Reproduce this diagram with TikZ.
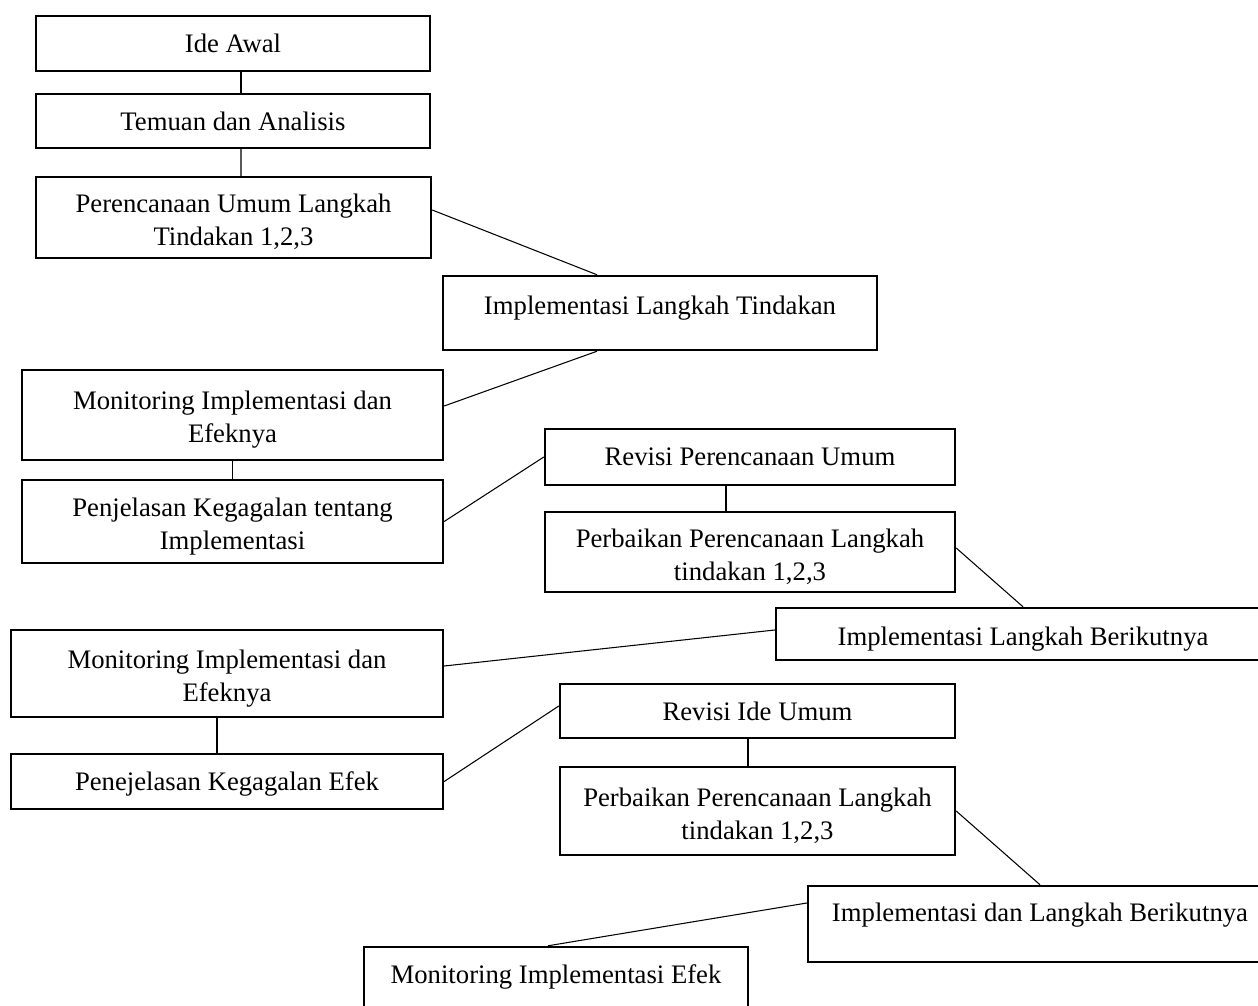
\documentclass[tikz,border=0pt]{standalone}
\usepackage{fontspec}
\setmainfont{Liberation Serif}
\newcommand\topstrut{\rule{0pt}{0.56cm}}

\begin{document}
\begin{tikzpicture}[x=0.02cm, y=-0.02cm, font=\fontsize{15.2}{18.8}\selectfont,
  box/.style={draw, line width=1.4pt, align=center, inner sep=2pt},
  link/.style={line width=0.6pt}]
  \useasboundingbox (0,0) rectangle (1258,1006);
  \clip (0,0) rectangle (1258,1006);

  \node[box, minimum width=7.88cm, minimum height=1.10cm] (ide) at (233,43.5) {Ide Awal};
  \node[box, minimum width=7.88cm, minimum height=1.08cm] (temuan) at (233,121) {Temuan dan Analisis};
  \node[box, minimum width=7.90cm, minimum height=1.62cm] (rencana) at (233.5,217.5) {\topstrut Perencanaan Umum Langkah\\Tindakan 1,2,3};
  \node[box, minimum width=8.68cm, minimum height=1.48cm, text depth=0.31cm] (impl) at (660,313) {Implementasi Langkah Tindakan};
  \node[box, minimum width=8.42cm, minimum height=1.80cm] (monA) at (232.5,415) {\topstrut Monitoring Implementasi dan\\Efeknya};
  \node[box, minimum width=8.42cm, minimum height=1.66cm] (gagalA) at (232.5,521.5) {\topstrut Penjelasan Kegagalan tentang\\Implementasi};
  \node[box, minimum width=8.20cm, minimum height=1.12cm] (revA) at (750,457) {Revisi Perencanaan Umum};
  \node[box, minimum width=8.20cm, minimum height=1.60cm] (perbA) at (750,552) {\topstrut Perbaikan Perencanaan Langkah\\tindakan 1,2,3};
  \node[box, minimum width=9.88cm, minimum height=1.04cm, text height=0.56cm] (implB) at (1023,634) {Implementasi Langkah Berikutnya};
  \node[box, minimum width=8.64cm, minimum height=1.74cm] (monB) at (227,673.5) {\topstrut Monitoring Implementasi dan\\Efeknya};
  \node[box, minimum width=8.64cm, minimum height=1.10cm, text height=0.48cm] (gagalB) at (227,781.5) {Penejelasan Kegagalan Efek};
  \node[box, minimum width=7.90cm, minimum height=1.08cm] (revB) at (757.5,711) {Revisi Ide Umum};
  \node[box, minimum width=7.90cm, minimum height=1.76cm] (perbB) at (757.5,811) {\topstrut Perbaikan Perencanaan Langkah\\tindakan 1,2,3};
  \node[box, minimum width=9.28cm, minimum height=1.52cm, text depth=0.49cm] (implC) at (1040,924) {Implementasi dan Langkah Berikutnya};
  \node[box, minimum width=7.68cm, minimum height=1.46cm, text depth=0.37cm] (monC) at (556,983.5) {Monitoring Implementasi Efek};

  \draw[link] ([xshift=0.16cm]ide.south) -- ([xshift=0.16cm]temuan.north);
  \draw[link] ([xshift=0.16cm]temuan.south) -- ([xshift=0.15cm]rencana.north);
  \draw[link] ([yshift=0.15cm]rencana.east) -- ([xshift=-1.26cm]impl.north);
  \draw[link] ([xshift=-1.26cm]impl.south) -- ([yshift=0.18cm]monA.east);
  \draw[link] (monA.south) -- (gagalA.north);
  \draw[link] (gagalA.east) -- (revA.west);
  \draw[link] ([xshift=-0.48cm]revA.south) -- ([xshift=-0.48cm]perbA.north);
  \draw[link] ([yshift=0.08cm]perbA.east) -- (implB.north);
  \draw[link] ([yshift=0.08cm]implB.west) -- ([yshift=0.15cm]monB.east);
  \draw[link] ([xshift=-0.2cm]monB.south) -- ([xshift=-0.2cm]gagalB.north);
  \draw[link] (gagalB.east) -- ([yshift=0.1cm]revB.west);
  \draw[link] ([xshift=-0.19cm]revB.south) -- ([xshift=-0.19cm]perbB.north);
  \draw[link] (perbB.east) -- (implC.north);
  \draw[link] ([yshift=0.42cm]implC.west) -- ([xshift=-0.16cm]monC.north);
\end{tikzpicture}
\end{document}
